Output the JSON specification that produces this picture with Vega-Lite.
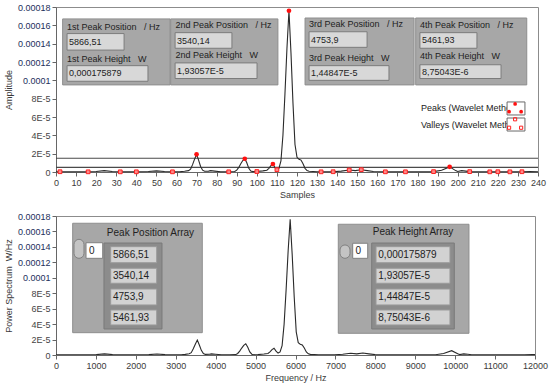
{
  "$schema": "https://vega.github.io/schema/vega-lite/v6.json",
  "background": "white",
  "padding": {"left": 3, "top": 2, "right": 8, "bottom": 2},
  "spacing": 11,
  "config": {
    "font": "Liberation Sans",
    "view": {"stroke": "#8c8c8c", "strokeWidth": 1},
    "axis": {
      "labelFont": "Liberation Sans", "labelFontSize": 9, "labelColor": "#3a3a3a",
      "titleFont": "Liberation Sans", "titleFontSize": 9, "titleFontWeight": "normal", "titleColor": "#3a3a3a",
      "domainColor": "#666666", "tickColor": "#666666", "tickSize": 4, "grid": false, "labelPadding": 2
    }
  },
  "datasets": {
    "curve": [
      {"s": 0, "f": 0, "a": 3e-7}, {"s": 4, "f": 202.3, "a": 2e-7}, {"s": 10, "f": 505.7, "a": 3e-7},
      {"s": 16, "f": 809.2, "a": 2e-7}, {"s": 20, "f": 1011.5, "a": 5e-7}, {"s": 24, "f": 1213.8, "a": 1.5e-6},
      {"s": 28, "f": 1416.1, "a": 5e-7}, {"s": 32, "f": 1618.3, "a": 2e-7}, {"s": 36, "f": 1820.6, "a": 3e-7},
      {"s": 40, "f": 2022.9, "a": 2e-7}, {"s": 46, "f": 2326.4, "a": 5e-7}, {"s": 50, "f": 2528.7, "a": 1.2e-6},
      {"s": 54, "f": 2731.0, "a": 5e-7}, {"s": 58, "f": 2933.3, "a": 2e-7}, {"s": 62, "f": 3135.5, "a": 4e-7},
      {"s": 64, "f": 3236.7, "a": 8e-7}, {"s": 66, "f": 3337.8, "a": 1.5e-6}, {"s": 67, "f": 3388.4, "a": 3e-6},
      {"s": 68, "f": 3439.0, "a": 8e-6}, {"s": 69, "f": 3489.6, "a": 1.4e-5}, {"s": 70, "f": 3540.1, "a": 1.93057e-5},
      {"s": 71, "f": 3590.7, "a": 1.3e-5}, {"s": 72, "f": 3641.3, "a": 6e-6}, {"s": 73, "f": 3691.9, "a": 2e-6},
      {"s": 74, "f": 3742.4, "a": 8e-7}, {"s": 76, "f": 3843.6, "a": 1e-6}, {"s": 77, "f": 3894.1, "a": 1.5e-6},
      {"s": 79, "f": 3995.3, "a": 1e-6}, {"s": 82, "f": 4147.0, "a": 3e-7}, {"s": 86, "f": 4349.3, "a": 2e-7},
      {"s": 89, "f": 4501.0, "a": 5e-7}, {"s": 90, "f": 4551.6, "a": 2e-6}, {"s": 91, "f": 4602.2, "a": 5e-6},
      {"s": 92, "f": 4652.7, "a": 9e-6}, {"s": 93, "f": 4703.3, "a": 1.25e-5}, {"s": 94, "f": 4753.9, "a": 1.44847e-5},
      {"s": 95, "f": 4804.5, "a": 1e-5}, {"s": 96, "f": 4855.0, "a": 4e-6}, {"s": 97, "f": 4905.6, "a": 1e-6},
      {"s": 98, "f": 4956.2, "a": 4e-7}, {"s": 100, "f": 5057.3, "a": 5e-7}, {"s": 103, "f": 5209.1, "a": 1.2e-6},
      {"s": 105, "f": 5310.2, "a": 2e-6}, {"s": 106, "f": 5360.8, "a": 4e-6}, {"s": 107, "f": 5411.3, "a": 7e-6},
      {"s": 108, "f": 5461.9, "a": 8.75043e-6}, {"s": 109, "f": 5512.5, "a": 5e-6}, {"s": 110, "f": 5563.1, "a": 2.5e-6},
      {"s": 111, "f": 5613.6, "a": 4e-6}, {"s": 112, "f": 5664.2, "a": 1.2e-5}, {"s": 113, "f": 5714.8, "a": 4e-5},
      {"s": 114, "f": 5765.4, "a": 8.5e-5}, {"s": 115, "f": 5815.9, "a": 1.35e-4}, {"s": 116, "f": 5866.5, "a": 1.75879e-4},
      {"s": 117, "f": 5917.1, "a": 1.3e-4}, {"s": 118, "f": 5967.7, "a": 7.5e-5}, {"s": 119, "f": 6018.2, "a": 3e-5},
      {"s": 120, "f": 6068.8, "a": 1.6e-5}, {"s": 121, "f": 6119.4, "a": 1.4e-5}, {"s": 122, "f": 6169.9, "a": 1.3e-5},
      {"s": 123, "f": 6220.5, "a": 9e-6}, {"s": 124, "f": 6271.1, "a": 4e-6}, {"s": 125, "f": 6321.7, "a": 1.5e-6},
      {"s": 126, "f": 6372.2, "a": 8e-7}, {"s": 130, "f": 6574.5, "a": 3e-7}, {"s": 132, "f": 6675.7, "a": 2e-7},
      {"s": 138, "f": 6979.1, "a": 3e-7}, {"s": 142, "f": 7181.4, "a": 1e-6}, {"s": 146, "f": 7383.7, "a": 2.2e-6},
      {"s": 149, "f": 7535.4, "a": 1.5e-6}, {"s": 152, "f": 7687.1, "a": 2.5e-6}, {"s": 155, "f": 7838.9, "a": 1.5e-6},
      {"s": 158, "f": 7990.6, "a": 5e-7}, {"s": 164, "f": 8294.0, "a": 2e-7}, {"s": 170, "f": 8597.5, "a": 3e-7},
      {"s": 174, "f": 8799.8, "a": 2e-7}, {"s": 180, "f": 9103.2, "a": 3e-7}, {"s": 188, "f": 9507.8, "a": 4e-7},
      {"s": 192, "f": 9710.1, "a": 2e-6}, {"s": 196, "f": 9912.4, "a": 5.6e-6}, {"s": 199, "f": 10064.1, "a": 1.5e-6},
      {"s": 200, "f": 10114.7, "a": 5e-7}, {"s": 202, "f": 10215.8, "a": 1.5e-6}, {"s": 204, "f": 10317.0, "a": 1e-6},
      {"s": 206, "f": 10418.1, "a": 4e-7}, {"s": 210, "f": 10620.4, "a": 3e-7}, {"s": 216, "f": 10923.8, "a": 2e-7},
      {"s": 220, "f": 11126.1, "a": 3e-7}, {"s": 226, "f": 11429.6, "a": 2e-7}, {"s": 232, "f": 11733.0, "a": 3e-7},
      {"s": 236, "f": 11935.3, "a": 5e-7}, {"s": 240, "f": 12137.6, "a": 3e-7}
    ],
    "peaks": [
      {"s": 70, "a": 1.93057e-5}, {"s": 94, "a": 1.44847e-5}, {"s": 108, "a": 8.75043e-6},
      {"s": 116, "a": 1.75879e-4}, {"s": 196, "a": 5.6e-6}
    ],
    "valleys": [
      {"s": 2, "a": 3e-7}, {"s": 16, "a": 2e-7}, {"s": 32, "a": 2e-7}, {"s": 40, "a": 2e-7}, {"s": 58, "a": 2e-7},
      {"s": 86, "a": 2e-7}, {"s": 100, "a": 5e-7}, {"s": 110, "a": 2.5e-6}, {"s": 132, "a": 2e-7}, {"s": 138, "a": 3e-7},
      {"s": 146, "a": 2.2e-6}, {"s": 152, "a": 2.5e-6}, {"s": 164, "a": 2e-7}, {"s": 174, "a": 2e-7}, {"s": 188, "a": 4e-7},
      {"s": 206, "a": 4e-7}, {"s": 216, "a": 2e-7}, {"s": 220, "a": 3e-7}, {"s": 226, "a": 2e-7}, {"s": 232, "a": 3e-7}
    ],
    "thr": [{"a": 1.5e-5}, {"a": 5e-6}],
    "boxes1": [
      {"s": 3.3, "s2": 56.8, "a": 9.5e-5, "a2": 1.67e-4},
      {"s": 57.1, "s2": 110.5, "a": 9.5e-5, "a2": 1.67e-4},
      {"s": 124.0, "s2": 178.3, "a": 9.5e-5, "a2": 1.68e-4},
      {"s": 179.1, "s2": 234.4, "a": 9.5e-5, "a2": 1.68e-4}
    ],
    "fields1": [
      {"s": 5.5, "s2": 33.9, "a": 1.33e-4, "a2": 1.51e-4},
      {"s": 5.5, "s2": 45.8, "a": 9.9e-5, "a2": 1.16e-4},
      {"s": 59.3, "s2": 87.6, "a": 1.35e-4, "a2": 1.52e-4},
      {"s": 59.3, "s2": 100.1, "a": 1.02e-4, "a2": 1.19e-4},
      {"s": 126.0, "s2": 154.9, "a": 1.36e-4, "a2": 1.53e-4},
      {"s": 126.0, "s2": 165.8, "a": 1.0e-4, "a2": 1.16e-4},
      {"s": 181.2, "s2": 209.6, "a": 1.35e-4, "a2": 1.52e-4},
      {"s": 181.2, "s2": 221.6, "a": 1.02e-4, "a2": 1.17e-4}
    ],
    "labels1": [
      {"s": 5.5, "a": 1.582e-4, "t": "1st Peak Position \u00a0\u00a0/ Hz"},
      {"s": 5.5, "a": 1.233e-4, "t": "1st Peak Height \u00a0\u00a0W"},
      {"s": 6.5, "a": 1.418e-4, "t": "5866,51"},
      {"s": 6.5, "a": 1.075e-4, "t": "0,000175879"},
      {"s": 59.5, "a": 1.604e-4, "t": "2nd Peak Position \u00a0\u00a0/ Hz"},
      {"s": 59.5, "a": 1.276e-4, "t": "2nd Peak Height \u00a0\u00a0W"},
      {"s": 60.3, "a": 1.43e-4, "t": "3540,14"},
      {"s": 60.3, "a": 1.102e-4, "t": "1,93057E-5"},
      {"s": 126.0, "a": 1.615e-4, "t": "3rd Peak Position \u00a0\u00a0/ Hz"},
      {"s": 126.0, "a": 1.244e-4, "t": "3rd Peak Height \u00a0\u00a0W"},
      {"s": 127.0, "a": 1.445e-4, "t": "4753,9"},
      {"s": 127.0, "a": 1.08e-4, "t": "1,44847E-5"},
      {"s": 181.2, "a": 1.604e-4, "t": "4th Peak Position \u00a0\u00a0/ Hz"},
      {"s": 181.2, "a": 1.265e-4, "t": "4th Peak Height \u00a0\u00a0W"},
      {"s": 182.2, "a": 1.435e-4, "t": "5461,93"},
      {"s": 182.2, "a": 1.095e-4, "t": "8,75043E-6"},
      {"s": 181.7, "a": 6.98e-5, "t": "Peaks (Wavelet Metho"},
      {"s": 181.7, "a": 5.13e-5, "t": "Valleys (Wavelet Meth"}
    ],
    "swBox": [
      {"s": 224.6, "s2": 233.5, "a": 6.22e-5, "a2": 7.64e-5},
      {"s": 224.6, "s2": 233.5, "a": 4.47e-5, "a2": 5.89e-5}
    ],
    "swPeak": [{"s": 225.6, "a": 6.58e-5}, {"s": 228.6, "a": 7.42e-5}, {"s": 231.6, "a": 6.58e-5}],
    "swValley": [{"s": 225.6, "a": 4.83e-5}, {"s": 228.6, "a": 5.75e-5}, {"s": 231.6, "a": 4.83e-5}],
    "boxes2": [
      {"f": 418, "f2": 3665, "a": 2.89e-5, "a2": 1.706e-4},
      {"f": 7072, "f2": 10346, "a": 2.81e-5, "a2": 1.693e-4}
    ],
    "frames2": [
      {"f": 1202, "f2": 2655, "a": 3.37e-5, "a2": 1.45e-4},
      {"f": 7909, "f2": 9978, "a": 3.37e-5, "a2": 1.45e-4}
    ],
    "fields2": [
      {"f": 1370, "f2": 2523, "a": 1.195e-4, "a2": 1.403e-4},
      {"f": 1370, "f2": 2523, "a": 9.29e-5, "a2": 1.123e-4},
      {"f": 1370, "f2": 2523, "a": 6.48e-5, "a2": 8.55e-5},
      {"f": 1370, "f2": 2523, "a": 3.89e-5, "a2": 5.83e-5},
      {"f": 8017, "f2": 9870, "a": 1.195e-4, "a2": 1.403e-4},
      {"f": 8017, "f2": 9870, "a": 9.29e-5, "a2": 1.123e-4},
      {"f": 8017, "f2": 9870, "a": 6.48e-5, "a2": 8.55e-5},
      {"f": 8017, "f2": 9870, "a": 3.89e-5, "a2": 5.83e-5}
    ],
    "idx2": [
      {"f": 752, "f2": 1170, "a": 1.252e-4, "a2": 1.454e-4},
      {"f": 7433, "f2": 7809, "a": 1.252e-4, "a2": 1.447e-4}
    ],
    "spin2": [
      {"f": 451, "f2": 701, "a": 1.252e-4, "a2": 1.498e-4},
      {"f": 7115, "f2": 7365, "a": 1.252e-4, "a2": 1.425e-4}
    ],
    "titles2": [
      {"f": 2367, "a": 1.576e-4, "t": "Peak Position Array"},
      {"f": 8944, "a": 1.589e-4, "t": "Peak Height Array"}
    ],
    "labels2": [
      {"f": 1428, "a": 1.295e-4, "t": "5866,51"},
      {"f": 1428, "a": 1.023e-4, "t": "3540,14"},
      {"f": 1428, "a": 7.51e-5, "t": "4753,9"},
      {"f": 1428, "a": 4.79e-5, "t": "5461,93"},
      {"f": 8074, "a": 1.295e-4, "t": "0,000175879"},
      {"f": 8074, "a": 1.023e-4, "t": "1,93057E-5"},
      {"f": 8074, "a": 7.51e-5, "t": "1,44847E-5"},
      {"f": 8074, "a": 4.79e-5, "t": "8,75043E-6"},
      {"f": 827, "a": 1.35e-4, "t": "0"},
      {"f": 7503, "a": 1.35e-4, "t": "0"}
    ]
  },
  "vconcat": [
    {
      "width": 482,
      "height": 165,
      "encoding": {
        "x": {"field": "s", "type": "quantitative", "title": "Samples", "scale": {"domain": [0, 240], "nice": false, "zero": false},
              "axis": {"values": [0,10,20,30,40,50,60,70,80,90,100,110,120,130,140,150,160,170,180,190,200,210,220,230,240], "labelOverlap": false, "labelFlush": false, "titlePadding": 3}},
        "y": {"field": "a", "type": "quantitative", "title": "Amplitude", "scale": {"domain": [0, 0.00018], "nice": false},
              "axis": {"values": [0, 0.00002, 0.00004, 0.00006, 0.00008, 0.0001, 0.00012, 0.00014, 0.00016, 0.00018],
                       "labelOverlap": false,
                       "labelExpr": "datum.value == 0 ? '0' : datum.value > 0.000095 ? format(datum.value, '.5~f') : format(datum.value * 100000, '.0f') + 'E-5'",
                       "labelColor": {"condition": {"test": "datum.value > 0.000095", "value": "#1c2f5c"}, "value": "#444444"},
                       "titlePadding": 4}}
      },
      "layer": [
        {
          "data": {"name": "thr"},
          "mark": {"type": "rule", "color": "#4a4a4a", "strokeWidth": 1.2},
          "encoding": {"x": null}
        },
        {
          "data": {"name": "curve"},
          "mark": {"type": "line", "color": "#2a2a2a", "strokeWidth": 1.1}
        },
        {
          "data": {"name": "boxes1"},
          "mark": {"type": "rect", "fill": "#a7a7a7", "stroke": "#8e8e8e", "strokeWidth": 1},
          "encoding": {"x2": {"field": "s2"}, "y2": {"field": "a2"}}
        },
        {
          "data": {"name": "fields1"},
          "mark": {"type": "rect", "fill": "#d8d8d8", "stroke": "#7c7c7c", "strokeWidth": 1},
          "encoding": {"x2": {"field": "s2"}, "y2": {"field": "a2"}}
        },
        {
          "data": {"name": "labels1"},
          "mark": {"type": "text", "align": "left", "baseline": "middle", "font": "Liberation Sans", "fontSize": 9, "color": "#222222"},
          "encoding": {"text": {"field": "t"}}
        },
        {
          "data": {"name": "swBox"},
          "mark": {"type": "rect", "fill": "white", "stroke": "#6a6a6a", "strokeWidth": 1},
          "encoding": {"x2": {"field": "s2"}, "y2": {"field": "a2"}}
        },
        {
          "data": {"name": "valleys"},
          "mark": {"type": "point", "shape": "square", "filled": true, "fill": "#ff8a8a", "stroke": "#ff2020", "strokeWidth": 1, "size": 14, "opacity": 1}
        },
        {
          "data": {"name": "swValley"},
          "mark": {"type": "point", "shape": "square", "filled": false, "stroke": "#ff2020", "strokeWidth": 1, "size": 10, "opacity": 1}
        },
        {
          "data": {"name": "peaks"},
          "mark": {"type": "circle", "color": "#ff1010", "size": 22, "opacity": 1}
        },
        {
          "data": {"name": "swPeak"},
          "mark": {"type": "circle", "color": "#ff1010", "size": 14, "opacity": 1}
        }
      ]
    },
    {
      "width": 479,
      "height": 139,
      "encoding": {
        "x": {"field": "f", "type": "quantitative", "title": "Frequency / Hz", "scale": {"domain": [0, 12000], "nice": false, "zero": false},
              "axis": {"values": [0,1000,2000,3000,4000,5000,6000,7000,8000,9000,10000,11000,12000], "format": "d", "labelOverlap": false, "labelFlush": false, "titlePadding": 3}},
        "y": {"field": "a", "type": "quantitative", "title": "Power Spectrum \u00a0W/Hz", "scale": {"domain": [0, 0.00018], "nice": false},
              "axis": {"values": [0, 0.00002, 0.00004, 0.00006, 0.00008, 0.0001, 0.00012, 0.00014, 0.00016, 0.00018],
                       "labelOverlap": false,
                       "labelExpr": "datum.value == 0 ? '0' : datum.value > 0.000095 ? format(datum.value, '.5~f') : format(datum.value * 100000, '.0f') + 'E-5'",
                       "labelColor": {"condition": {"test": "datum.value > 0.000095", "value": "#1c2f5c"}, "value": "#444444"},
                       "titlePadding": 4}}
      },
      "layer": [
        {
          "data": {"name": "curve"},
          "mark": {"type": "line", "color": "#2a2a2a", "strokeWidth": 1.1, "clip": true}
        },
        {
          "data": {"name": "boxes2"},
          "mark": {"type": "rect", "fill": "#a7a7a7", "stroke": "#8e8e8e", "strokeWidth": 1},
          "encoding": {"x2": {"field": "f2"}, "y2": {"field": "a2"}}
        },
        {
          "data": {"name": "frames2"},
          "mark": {"type": "rect", "fill": "#8c8c8c", "stroke": "#7a7a7a", "strokeWidth": 1},
          "encoding": {"x2": {"field": "f2"}, "y2": {"field": "a2"}}
        },
        {
          "data": {"name": "fields2"},
          "mark": {"type": "rect", "fill": "#d2d2d2", "stroke": "#9a9a9a", "strokeWidth": 1},
          "encoding": {"x2": {"field": "f2"}, "y2": {"field": "a2"}}
        },
        {
          "data": {"name": "spin2"},
          "mark": {"type": "rect", "fill": "#c4c4c4", "stroke": "#808080", "strokeWidth": 1, "cornerRadius": 5},
          "encoding": {"x2": {"field": "f2"}, "y2": {"field": "a2"}}
        },
        {
          "data": {"name": "idx2"},
          "mark": {"type": "rect", "fill": "white", "stroke": "#808080", "strokeWidth": 1},
          "encoding": {"x2": {"field": "f2"}, "y2": {"field": "a2"}}
        },
        {
          "data": {"name": "titles2"},
          "mark": {"type": "text", "align": "center", "baseline": "middle", "font": "Liberation Sans", "fontSize": 10, "color": "#222222"},
          "encoding": {"text": {"field": "t"}}
        },
        {
          "data": {"name": "labels2"},
          "mark": {"type": "text", "align": "left", "baseline": "middle", "font": "Liberation Sans", "fontSize": 10, "color": "#222222"},
          "encoding": {"text": {"field": "t"}}
        }
      ]
    }
  ]
}
